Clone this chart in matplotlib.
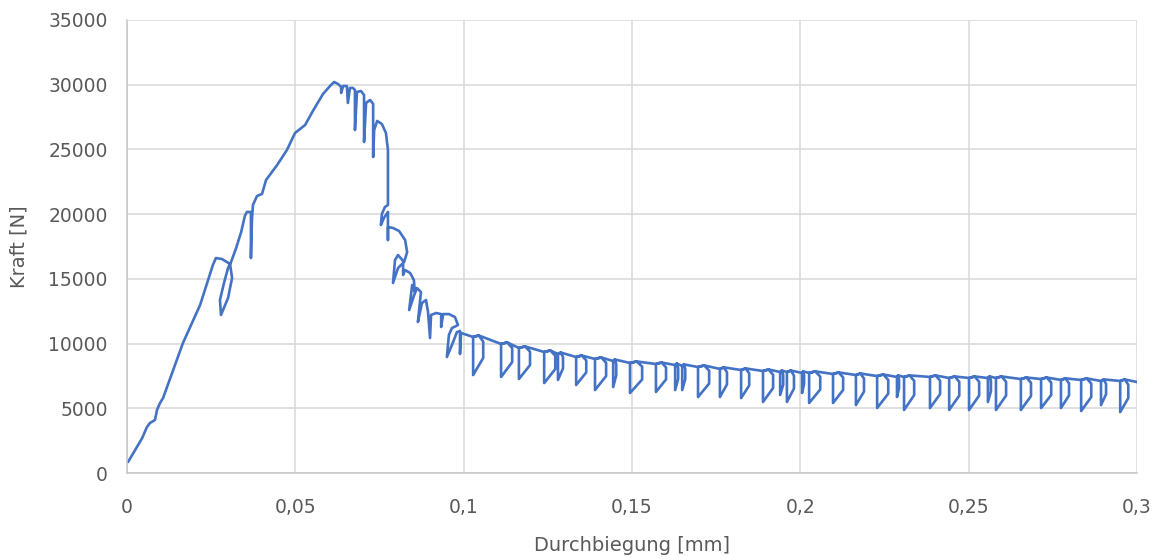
import matplotlib.pyplot as plt

# Anstieg, Spitze und Übergangsbereich
curve_x = [0.0003, 0.0024, 0.0045, 0.0059, 0.0068, 0.0083, 0.0089, 0.0098, 0.0107, 0.0166,
           0.0217, 0.0255, 0.0264, 0.0282, 0.0306, 0.0312, 0.0300, 0.0279, 0.0276, 0.0288,
           0.0300, 0.0309, 0.0324, 0.0339, 0.0350, 0.0356, 0.0368, 0.0368, 0.0371, 0.0374,
           0.0386, 0.0401, 0.0413, 0.0446, 0.0475, 0.0499, 0.0529, 0.0552, 0.0582, 0.0603,
           0.0615, 0.0627, 0.0636, 0.0636, 0.0642, 0.0653, 0.0656, 0.0662, 0.0671, 0.0677,
           0.0677, 0.0683, 0.0695, 0.0704, 0.0704, 0.0710, 0.0722, 0.0731, 0.0731, 0.0734,
           0.0743, 0.0757, 0.0769, 0.0775, 0.0775, 0.0766, 0.0757, 0.0754, 0.0763, 0.0775,
           0.0775, 0.0775, 0.0790, 0.0808, 0.0826, 0.0832, 0.0823, 0.0805, 0.0796, 0.0790,
           0.0805, 0.0820, 0.0820, 0.0826, 0.0841, 0.0852, 0.0855, 0.0847, 0.0838, 0.0852,
           0.0861, 0.0873, 0.0864, 0.0876, 0.0888, 0.0894, 0.0900, 0.0903, 0.0918, 0.0933,
           0.0933, 0.0939, 0.0956, 0.0974, 0.0983, 0.0965, 0.0956, 0.0950, 0.0965, 0.0980,
           0.0989, 0.0989, 0.0992]
curve_y = [850, 1780, 2700, 3550, 3860, 4100, 4870, 5410, 5790, 10040,
           12980, 16070, 16610, 16530, 16150, 15070, 13520, 12210, 13370, 14680,
           15840, 16300, 17380, 18620, 19860, 20170, 20170, 16610, 19550, 20710,
           21400, 21560, 22640, 23800, 24960, 26270, 26890, 27970, 29280, 29900,
           30210, 30050, 29820, 29360, 29900, 29900, 28590, 29750, 29750, 29590,
           26500, 29440, 29510, 29200, 25570, 28590, 28820, 28510, 24410, 26500,
           27200, 26960, 26270, 24960, 20710, 20550, 20010, 19160, 19700, 20170,
           18000, 19010, 18930, 18700, 18000, 17070, 16300, 16840, 16460, 14680,
           15840, 16220, 15300, 15680, 15450, 14910, 13980, 14530, 12590, 13680,
           14290, 13980, 11670, 13130, 13370, 12440, 10430, 12210, 12360, 12280,
           11280, 12280, 12280, 12050, 11430, 11200, 10660, 8960, 9890, 10890,
           10970, 9190, 10820]

# Ent- und Wiederbelastungsschleifen im Nachbruchbereich
loop_left = [0.1028, 0.1111, 0.1164, 0.1239, 0.1280, 0.1334, 0.1390, 0.1444, 0.1494, 0.1571,
             0.1628, 0.1649, 0.1696, 0.1761, 0.1824, 0.1889, 0.1940, 0.1960, 0.2005, 0.2026,
             0.2097, 0.2165, 0.2228, 0.2287, 0.2308, 0.2385, 0.2442, 0.2501, 0.2557, 0.2581,
             0.2655, 0.2715, 0.2774, 0.2834, 0.2893, 0.2950]
loop_width = [0.0030, 0.0033, 0.0033, 0.0033, 0.0015, 0.0030, 0.0033, 0.0009, 0.0036, 0.0030,
              0.0009, 0.0009, 0.0033, 0.0021, 0.0024, 0.0030, 0.0009, 0.0021, 0.0006, 0.0033,
              0.0030, 0.0024, 0.0033, 0.0006, 0.0030, 0.0030, 0.0030, 0.0030, 0.0009, 0.0030,
              0.0030, 0.0030, 0.0024, 0.0030, 0.0015, 0.0024]
loop_top = [10510, 9970, 9660, 9350, 9190, 8960, 8810, 8650, 8500, 8420,
            8340, 8270, 8190, 8040, 7960, 7880, 7800, 7800, 7730, 7730,
            7650, 7570, 7490, 7420, 7420, 7420, 7340, 7340, 7340, 7340,
            7260, 7260, 7190, 7190, 7110, 7110]
loop_bottom = [7570, 7420, 7260, 6950, 7190, 6800, 6410, 6640, 6180, 6260,
               6410, 6410, 5870, 5870, 5790, 5490, 6030, 5490, 6180, 5410,
               5410, 5250, 5020, 5870, 4870, 5020, 4870, 4870, 5490, 4870,
               4870, 5020, 5020, 4790, 5250, 4710]
end_x, end_y = 0.300, 7030

# Pfad zusammensetzen: jede Schleife als "D" mit gerundetem Dach
xs = list(curve_x)
ys = list(curve_y)
for xl, w, yt, yb in zip(loop_left, loop_width, loop_top, loop_bottom):
    xr = xl + w
    ym = yb + 0.45 * (yt - yb)
    ya = yt + 120
    yd = yt - 0.12 * (yt - yb)
    xa = xl + 0.55 * w
    xs += [xl, xa, xr, xr, xl, xl, xa]
    ys += [yt, ya, yd, ym, yb, yt, ya]
xs.append(end_x)
ys.append(end_y)

fig = plt.figure(figsize=(11.58, 5.58), dpi=100)
ax = fig.add_axes([0.1097, 0.1523, 0.8722, 0.8119])

ax.plot(xs, ys, color='#4472C4', lw=1.9, solid_joinstyle='round', solid_capstyle='round')

ax.set_xlim(0, 0.3)
ax.set_ylim(0, 35000)
xticks = [0, 0.05, 0.1, 0.15, 0.2, 0.25, 0.3]
xtick_labels = ['0', '0,05', '0,1', '0,15', '0,2', '0,25', '0,3']
ax.set_xticks(xticks)
ax.set_xticklabels(xtick_labels)
ax.set_yticks(range(0, 35001, 5000))
ax.grid(True, color='#D9D9D9', lw=1.1)
ax.set_axisbelow(True)
for s in ['top', 'right']:
    ax.spines[s].set_visible(False)
for s in ['left', 'bottom']:
    ax.spines[s].set_color('#C8C8C8')
    ax.spines[s].set_linewidth(1.1)
ax.tick_params(length=0, labelsize=13.5, labelcolor='#595959')
ax.tick_params(axis='y', pad=14)
ax.tick_params(axis='x', pad=18)
ax.set_xlabel('Durchbiegung [mm]', fontsize=14, color='#595959', labelpad=14)
ax.set_ylabel('Kraft [N]', fontsize=14, color='#595959', labelpad=14)

fig.savefig('out.png', dpi=100)
